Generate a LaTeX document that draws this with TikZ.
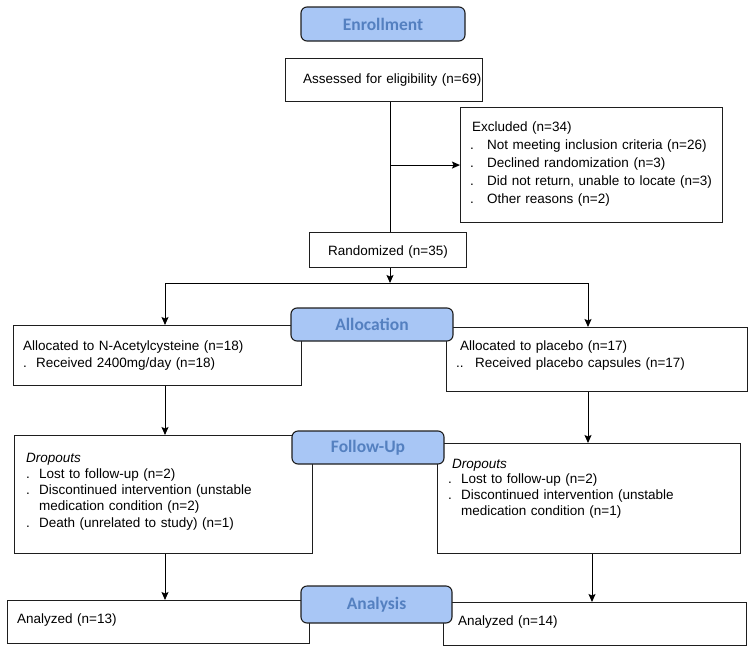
\documentclass[tikz,border=0pt]{standalone}
\usepackage{fontspec}
\setmainfont{Liberation Sans}
\newfontfamily\lblfont{Carlito}
\usetikzlibrary{arrows.meta}
\definecolor{lblfill}{RGB}{168,198,245}
\definecolor{lbltext}{RGB}{84,128,192}
\definecolor{edgecol}{RGB}{30,30,30}
\newcommand\mydot[1]{\makebox[#1][l]{.}}
\tikzset{
 box/.style={draw=edgecol, line width=1.1pt, rectangle, inner sep=0pt, anchor=north west, fill=white},
 phase/.style={draw=edgecol, line width=1.1pt, rounded corners=6pt, fill=lblfill, text=lbltext,
   font=\lblfont\bfseries\fontsize{17.5}{20}\selectfont, inner sep=0pt},
 txt/.style={anchor=base west, inner sep=0pt, align=left, text width=300pt,
   font=\fontsize{13.5}{#1}\selectfont},
 conn/.style={line width=1pt, draw=black},
 arr/.style={conn, -{Stealth[length=8pt,width=7pt,inset=1.5pt]}},
}
\begin{document}
\begin{tikzpicture}[x=1pt,y=-1pt]
\useasboundingbox (0,0) rectangle (754,653);
% boxes
\node[box, minimum width=197pt, minimum height=43pt] (assess) at (285,58) {};
\node[box, minimum width=262pt, minimum height=115pt] (excl) at (460,107) {};
\node[box, minimum width=157pt, minimum height=35pt] (rand) at (309,232) {};
\node[box, minimum width=288pt, minimum height=60pt] (alocL) at (13,325) {};
\node[box, minimum width=301pt, minimum height=64pt] (alocR) at (446,327) {};
\node[box, minimum width=298pt, minimum height=118pt] (dropL) at (14,435) {};
\node[box, minimum width=303pt, minimum height=110pt] (dropR) at (437,443) {};
\node[box, minimum width=302pt, minimum height=43pt] (anaL) at (7,600) {};
\node[box, minimum width=303pt, minimum height=43pt] (anaR) at (443,602) {};
% texts
\node[txt=17] (tAssess) at (303,83) {Assessed for eligibility (n=69)};
\node[txt=18] (tExcl) at (470,131) {\hspace*{2pt}Excluded (n=34)\\
 \mydot{17pt}Not meeting inclusion criteria (n=26)\\
 \mydot{17pt}Declined randomization (n=3)\\
 \mydot{17pt}Did not return, unable to locate (n=3)\\
 \mydot{17pt}Other reasons (n=2)};
\node[txt=17] (tRand) at (328,255) {Randomized (n=35)};
\node[txt=17] (tAlocL) at (23,350) {Allocated to N-Acetylcysteine (n=18)\\
 \mydot{13pt}Received 2400mg/day (n=18)};
\node[txt=17] (tAlocR) at (456,350) {\hspace*{4pt}Allocated to placebo (n=17)\\
 \makebox[19pt][l]{..}Received placebo capsules (n=17)};
\node[txt=16.3] (tDropL) at (26,462) {\textit{Dropouts}\\
 \mydot{13pt}Lost to follow-up (n=2)\\
 \mydot{13pt}Discontinued intervention (unstable\\
 \hspace*{13pt}medication condition (n=2)\\
 \mydot{13pt}Death (unrelated to study) (n=1)};
\node[txt=15.8] (tDropR) at (448,468) {\hspace*{4pt}\textit{Dropouts}\\
 \mydot{13pt}Lost to follow-up (n=2)\\
 \mydot{13pt}Discontinued intervention (unstable\\
 \hspace*{13pt}medication condition (n=1)};
\node[txt=17] (tAnaL) at (17,623) {Analyzed (n=13)};
\node[txt=17] (tAnaR) at (458,625) {Analyzed (n=14)};
% connectors
\coordinate (tx) at (390,0);
\coordinate (split) at (390,283);
\coordinate (lx) at (165,0);
\coordinate (rx) at (588,0);
\coordinate (rx2) at (592,0);
\draw[conn] (assess.south -| tx) -- (rand.north -| tx);
\draw[arr] (excl.west -| tx) -- (excl.west);
\draw[arr] (rand.south -| tx) -- (split);
\draw[conn] (split -| lx) -- (split -| rx);
\draw[arr] (split -| lx) -- (alocL.north -| lx);
\draw[arr] (split -| rx) -- (alocR.north -| rx);
\draw[arr] (alocL.south -| lx) -- (dropL.north -| lx);
\draw[arr] (alocR.south -| rx) -- (dropR.north -| rx);
\draw[arr] (dropL.south -| lx) -- (anaL.north -| lx);
\draw[arr] (dropR.south -| rx2) -- (anaR.north -| rx2);
% phase labels
\node[phase, minimum width=164pt, minimum height=34pt] (enr) at (383,24) {Enrollment};
\node[phase, minimum width=162pt, minimum height=33pt] (alloc) at (372,324.5) {Allocation};
\node[phase, minimum width=152pt, minimum height=33pt] (fup) at (368,447.5) {Follow-Up};
\node[phase, minimum width=151pt, minimum height=37pt] (anal) at (376.5,604.5) {Analysis};
\end{tikzpicture}
\end{document}
